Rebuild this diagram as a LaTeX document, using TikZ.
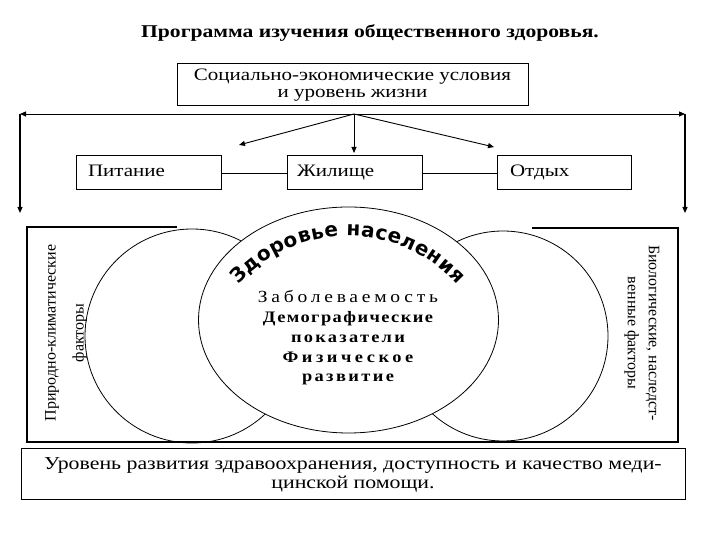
\documentclass[tikz,border=0pt]{standalone}
\usepackage{fontspec}
\setmainfont{Liberation Serif}[FakeStretch=1.2]
\newfontfamily\plainserif{Liberation Serif}
\newfontfamily\arcfont{DejaVu Sans}
\newfontfamily\widefont{Liberation Serif}[FakeStretch=1.15]
\usetikzlibrary{arrows.meta,decorations.text}
\begin{document}
\begin{tikzpicture}[x=1pt,y=1pt,
  arr/.style={-{Triangle[length=6pt,width=5pt]}, line width=0.9pt},
  box/.style={draw, line width=1pt, inner sep=0pt},
  thin/.style={line width=0.8pt},
  frame/.style={line width=1.3pt},
  txt/.style={font=\fontsize{17.5}{18}\selectfont},
  lbl/.style={txt, minimum height=34pt, text height=12pt, text depth=4pt, align=left}]
\useasboundingbox (0,0) rectangle (720,540);
% title
\node[font=\bfseries\fontsize{18}{20}\selectfont] (title) at (370,507) {Программа изучения общественного здоровья.};
% top box
\node[box, txt, minimum width=351pt, minimum height=42pt, align=center] (soc) at (352.5,455) {Социально-экономические условия\\[-0.5pt]и уровень жизни};
% distribution line
\coordinate (hub) at (354,426);
\coordinate (L) at (20,426);
\coordinate (R) at (685,426);
\coordinate (Ld) at (20,327);
\coordinate (Rd) at (685,327);
\draw[arr] (hub) -- (L);
\draw[arr] (hub) -- (R);
\draw[arr, line width=1.2pt] (L) -- (Ld);
\draw[arr, line width=1.2pt] (R) -- (Rd);
\coordinate (bl) at (239,395);
\coordinate (bc) at (354,387);
\coordinate (br) at (494,393);
\draw[arr] (hub) -- (bl);
\draw[arr] (hub) -- (bc);
\draw[arr] (hub) -- (br);
% three boxes
\node[box, lbl, minimum width=145pt, text width=121pt, inner xsep=12pt] (pit) at (148.5,367) {Питание};
\node[box, lbl, minimum width=135pt, text width=115pt, inner xsep=10pt] (zhil) at (354.5,367) {Жилище};
\node[box, lbl, minimum width=134pt, text width=108pt, inner xsep=13pt] (otd) at (564,367) {Отдых};
\draw[thin] (pit) -- (zhil);
\draw[thin] (zhil) -- (otd);
% frame
\draw[frame] (177,313) -- (27,313) -- (27,98) -- (678,98) -- (678,312) -- (532,312);
% circles
\draw[thin] (192,204) circle[radius=107];
\draw[thin] (503,204) circle[radius=105];
\draw[thin, fill=white] (348.5,220) ellipse[x radius=150, y radius=113];
% arc text
\path[decorate, decoration={text along path, text align=fit to path,
  text={|\arcfont\bfseries\fontsize{20}{20}\selectfont|Здоровье населения}}]
  (348,157) ++(138:147) arc[start angle=138, end angle=42, radius=147];
% central text
\node[align=center, font=\widefont\fontsize{16}{19.8}\selectfont] (centre) at (348,202) {%
  {\fontsize{17}{19.8}\selectfont\addfontfeature{LetterSpace=22}Заболеваемость}\\
  {\bfseries\addfontfeature{LetterSpace=9}Демографические}\\
  {\bfseries\addfontfeature{LetterSpace=14}показатели}\\
  {\bfseries\addfontfeature{LetterSpace=22}Физическое}\\
  {\bfseries\addfontfeature{LetterSpace=15}развитие}};
% side texts
\node[rotate=90, align=center, font=\plainserif\fontsize{16}{28}\selectfont] (natf) at (66,207) {Природно-климатические\\факторы};
\node[rotate=-90, align=center, font=\plainserif\fontsize{16}{21}\selectfont] (biof) at (642,207) {Биологические, наследст-\\венные факторы};
% bottom box
\node[box, font=\fontsize{18.2}{19}\selectfont, minimum width=664pt, minimum height=51pt, align=center] (med) at (353,65.5) {Уровень развития здравоохранения, доступность и качество меди-\\цинской помощи.};
\end{tikzpicture}
\end{document}
